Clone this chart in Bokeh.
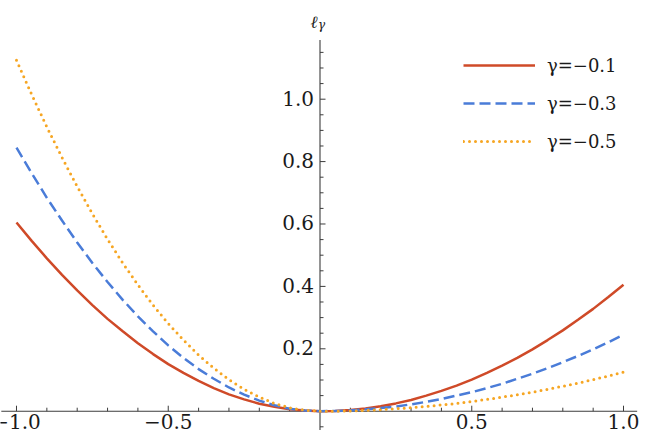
from bokeh.plotting import figure
from bokeh.models import Range1d, Legend, LegendItem
from bokeh.core.properties import value
from bokeh.embed import file_html
from bokeh.resources import INLINE

# ---- data ----
x_vals = [-1.0, -0.95, -0.9, -0.85, -0.8, -0.75, -0.7, -0.65, -0.6, -0.55, -0.5,
          -0.45, -0.4, -0.35, -0.3, -0.25, -0.2, -0.15, -0.1, -0.05, 0.0,
          0.05, 0.1, 0.15, 0.2, 0.25, 0.3, 0.35, 0.4, 0.45, 0.5,
          0.55, 0.6, 0.65, 0.7, 0.75, 0.8, 0.85, 0.9, 0.95, 1.0]
loss_g01 = [0.605, 0.546, 0.490, 0.437, 0.387, 0.340, 0.296, 0.256, 0.218, 0.183, 0.151,
            0.123, 0.097, 0.074, 0.054, 0.038, 0.024, 0.014, 0.006, 0.002, 0.0,
            0.001, 0.004, 0.009, 0.016, 0.025, 0.036, 0.050, 0.065, 0.082, 0.101,
            0.123, 0.146, 0.171, 0.198, 0.228, 0.259, 0.293, 0.328, 0.366, 0.405]
loss_g03 = [0.845, 0.763, 0.684, 0.611, 0.541, 0.475, 0.414, 0.357, 0.304, 0.256, 0.211,
            0.171, 0.135, 0.104, 0.076, 0.053, 0.034, 0.019, 0.008, 0.002, 0.0,
            0.001, 0.002, 0.006, 0.010, 0.015, 0.022, 0.030, 0.039, 0.050, 0.061,
            0.074, 0.088, 0.104, 0.120, 0.138, 0.157, 0.177, 0.198, 0.221, 0.245]
loss_g05 = [1.125, 1.015, 0.911, 0.813, 0.720, 0.633, 0.551, 0.475, 0.405, 0.340, 0.281,
            0.228, 0.180, 0.138, 0.101, 0.070, 0.045, 0.025, 0.011, 0.003, 0.0,
            0.000, 0.001, 0.003, 0.005, 0.008, 0.011, 0.015, 0.020, 0.025, 0.031,
            0.038, 0.045, 0.053, 0.061, 0.070, 0.080, 0.090, 0.101, 0.113, 0.125]
series_labels = ["γ=−0.1", "γ=−0.3", "γ=−0.5"]

x_major_ticks = [-1.0, -0.5, 0.5, 1.0]
x_major_labels = ["−1.0", "−0.5", "0.5", "1.0"]
x_minor_ticks = [-0.9, -0.8, -0.7, -0.6, -0.4, -0.3, -0.2, -0.1,
                 0.1, 0.2, 0.3, 0.4, 0.6, 0.7, 0.8, 0.9]
y_major_ticks = [0.2, 0.4, 0.6, 0.8, 1.0]
y_major_labels = ["0.2", "0.4", "0.6", "0.8", "1.0"]
y_minor_ticks = [-0.05, 0.05, 0.1, 0.15, 0.25, 0.3, 0.35, 0.45, 0.5, 0.55,
                 0.65, 0.7, 0.75, 0.85, 0.9, 0.95, 1.05, 1.1, 1.15]

# ---- layout / style ----
W, H = 653, 442
X0, X1 = -1.0527, 1.0988
Y0, Y1 = -0.1003, 1.3163
PX_X = W / (X1 - X0)
PX_Y = H / (Y1 - Y0)
AXIS_X_EXTENT = (-1.05, 1.045)
AXIS_Y_EXTENT = (-0.06, 1.19)
AX_COL = "#3c3c3c"
TXT_COL = "#1a1a1a"
FONT_NAME = "DejaVu Serif"
FONT = value(FONT_NAME)
RED, BLUE, ORANGE = "#cf4a28", "#4a7cd8", "#f6a623"

p = figure(width=W, height=H, x_range=Range1d(X0, X1), y_range=Range1d(Y0, Y1),
           x_axis_type=None, y_axis_type=None, toolbar_location=None,
           output_backend="svg", min_border=0, outline_line_color=None)
p.grid.visible = False

# axis lines
p.segment(x0=[AXIS_X_EXTENT[0]], y0=[0], x1=[AXIS_X_EXTENT[1]], y1=[0],
          line_color=AX_COL, line_width=1.1)
p.segment(x0=[0], y0=[AXIS_Y_EXTENT[0]], x1=[0], y1=[AXIS_Y_EXTENT[1]],
          line_color=AX_COL, line_width=1.1)

# ticks: x ticks point up, y ticks point right
maj_len, min_len = 5.5, 3.5
p.segment(x0=x_major_ticks, y0=[0] * len(x_major_ticks), x1=x_major_ticks,
          y1=[maj_len / PX_Y] * len(x_major_ticks), line_color=AX_COL, line_width=1)
p.segment(x0=x_minor_ticks, y0=[0] * len(x_minor_ticks), x1=x_minor_ticks,
          y1=[min_len / PX_Y] * len(x_minor_ticks), line_color=AX_COL, line_width=1)
p.segment(x0=[0] * len(y_major_ticks), y0=y_major_ticks,
          x1=[maj_len / PX_X] * len(y_major_ticks), y1=y_major_ticks,
          line_color=AX_COL, line_width=1)
p.segment(x0=[0] * len(y_minor_ticks), y0=y_minor_ticks,
          x1=[min_len / PX_X] * len(y_minor_ticks), y1=y_minor_ticks,
          line_color=AX_COL, line_width=1)

# tick labels
p.text(x=x_major_ticks, y=[0] * len(x_major_ticks), text=x_major_labels,
       text_font=FONT, text_font_size="20px", text_color=TXT_COL,
       text_align="center", text_baseline="top", y_offset=3)
p.text(x=[0] * len(y_major_ticks), y=y_major_ticks, text=y_major_labels,
       text_font=FONT, text_font_size="20px", text_color=TXT_COL,
       text_align="right", text_baseline="middle", x_offset=-6, y_offset=-1)

# y axis label  l_gamma
p.text(x=[0], y=[Y1], text=["ℓ"], text_font=FONT, text_font_style="italic",
       text_font_size="17px", text_color=TXT_COL, text_align="center",
       text_baseline="alphabetic", x_offset=-6, y_offset=21)
p.text(x=[0], y=[Y1], text=["γ"], text_font=FONT, text_font_style="italic",
       text_font_size="12px", text_color=TXT_COL, text_align="left",
       text_baseline="alphabetic", x_offset=-2, y_offset=24)

# curves
r1 = p.line(x_vals, loss_g01, line_color=RED, line_width=2.5)
r2 = p.line(x_vals, loss_g03, line_color=BLUE, line_width=2.5, line_dash="11 5")
r3 = p.line(x_vals, loss_g05, line_color=ORANGE, line_width=3, line_dash="0 6",
            line_cap="round")

legend = Legend(items=[LegendItem(label=series_labels[0], renderers=[r1]),
                       LegendItem(label=series_labels[1], renderers=[r2]),
                       LegendItem(label=series_labels[2], renderers=[r3])],
                location=(463, 286), glyph_width=72, glyph_height=30,
                label_height=30, spacing=8, padding=0, margin=0,
                label_standoff=12, label_text_font=FONT_NAME,
                label_text_font_size="18px", label_text_color=TXT_COL,
                border_line_color=None, background_fill_alpha=0)
p.add_layout(legend)

open("out.html", "w").write(file_html(p, INLINE))
